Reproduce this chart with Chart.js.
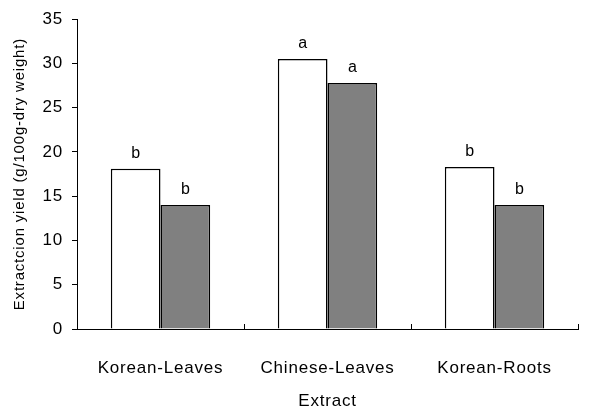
<!DOCTYPE html>
<html>
<head>
<meta charset="utf-8">
<script src="https://cdn.jsdelivr.net/npm/chart.js@4"></script>
<style>
  html, body { margin: 0; padding: 0; background: #fff; }
  #wrap { width: 594px; height: 412px; }
</style>
</head>
<body>
<div id="wrap"><canvas id="yieldChart"></canvas></div>
<script>
// data
const categories = ['Korean-Leaves', 'Chinese-Leaves', 'Korean-Roots'];
const whiteValues = [18.1, 30.5, 18.3];
const greyValues = [14.0, 27.8, 14.0];
const whiteLetters = ['b', 'a', 'b'];
const greyLetters = ['b', 'a', 'b'];
const yTicks = [0, 5, 10, 15, 20, 25, 30, 35];

const FONT = 'Liberation Sans, Arial, sans-serif';

// the original text is set a little loose
const spacingPlugin = {
  id: 'spacing',
  beforeUpdate(chart) { chart.ctx.letterSpacing = '0.8px'; },
  beforeDraw(chart) { chart.ctx.letterSpacing = '0.8px'; }
};

// letters over the bars
const letterPlugin = {
  id: 'letters',
  afterDatasetsDraw(chart) {
    const c = chart.ctx;
    c.save();
    c.letterSpacing = '0px';
    c.font = '16px ' + FONT;
    c.fillStyle = '#000';
    c.textAlign = 'center';
    c.textBaseline = 'alphabetic';
    chart.data.datasets.forEach((ds, i) => {
      chart.getDatasetMeta(i).data.forEach((bar, j) => {
        c.fillText(ds.letters[j], bar.x, bar.y - 11);
      });
    });
    c.restore();
  }
};

// small upward tick marks between categories on the x axis
const xTickPlugin = {
  id: 'xTicks',
  afterDraw(chart) {
    const x = chart.scales.x;
    const c = chart.ctx;
    const n = chart.data.labels.length;
    const step = (x.right - x.left) / n;
    c.save();
    c.strokeStyle = '#000';
    c.lineWidth = 1;
    c.beginPath();
    for (let i = 0; i <= n; i++) {
      const px = Math.round(x.left + i * step) + 0.5;
      c.moveTo(px, x.top);
      c.lineTo(px, x.top - 5);
    }
    c.stroke();
    c.restore();
  }
};

new Chart(document.getElementById('yieldChart'), {
  type: 'bar',
  data: {
    labels: categories,
    datasets: [
      {
        data: whiteValues,
        letters: whiteLetters,
        backgroundColor: '#ffffff',
        borderColor: '#000000',
        borderWidth: 1.5
      },
      {
        data: greyValues,
        letters: greyLetters,
        backgroundColor: '#808080',
        borderColor: '#000000',
        borderWidth: 1.5
      }
    ]
  },
  options: {
    responsive: true,
    maintainAspectRatio: false,
    animation: false,
    layout: { padding: { top: 18, right: 16, left: 0, bottom: 0 } },
    datasets: {
      bar: { barPercentage: 1, categoryPercentage: 0.595 }
    },
    scales: {
      x: {
        grid: { display: false },
        border: { color: '#000', width: 1 },
        ticks: {
          color: '#000',
          font: { family: FONT, size: 17 },
          padding: 21
        },
        title: {
          display: true,
          text: 'Extract',
          color: '#000',
          font: { family: FONT, size: 17 },
          padding: { top: 0, bottom: 0 }
        },
        afterFit(scale) { scale.height = 83; }
      },
      y: {
        min: 0,
        max: 35,
        afterBuildTicks(scale) {
          scale.ticks = yTicks.map(v => ({ value: v }));
        },
        grid: {
          drawOnChartArea: false,
          drawTicks: true,
          tickLength: 5,
          color: '#000'
        },
        border: { color: '#000', width: 1 },
        ticks: {
          color: '#000',
          font: { family: FONT, size: 17 },
          padding: 9
        },
        title: {
          display: true,
          text: 'Extractcion yield (g/100g-dry weight)',
          color: '#000',
          font: { family: FONT, size: 15 },
          padding: { top: 11, bottom: 0 }
        },
        afterFit(scale) { scale.width = 77; }
      }
    },
    plugins: {
      legend: { display: false },
      tooltip: { enabled: false }
    }
  },
  plugins: [spacingPlugin, letterPlugin, xTickPlugin]
});
</script>
</body>
</html>
